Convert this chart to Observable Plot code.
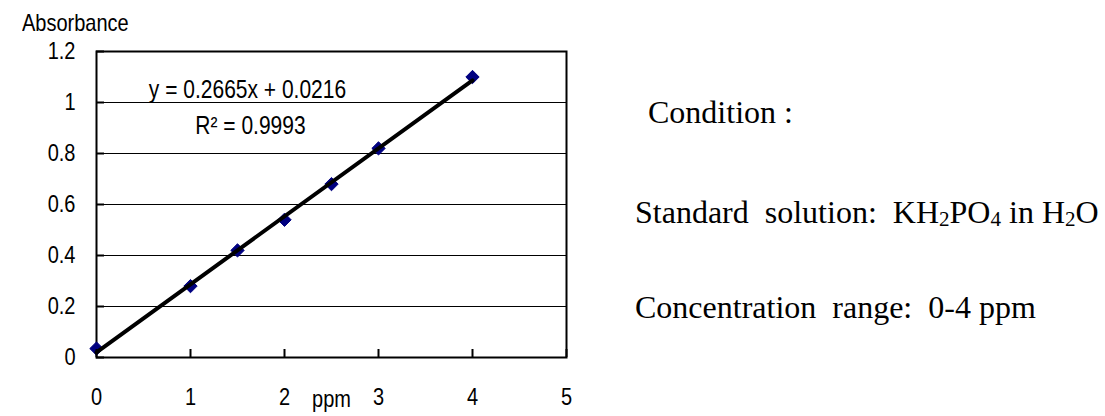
<!DOCTYPE html>
<html>
<head>
<meta charset="utf-8">
<script src="https://cdn.jsdelivr.net/npm/d3@7"></script>
<script src="https://cdn.jsdelivr.net/npm/@observablehq/plot@0.6"></script>
<style>
  html, body { margin: 0; padding: 0; background: #fff; }
  #wrap { position: relative; width: 1105px; height: 416px; overflow: hidden; background: #fff; }
  #chart { position: absolute; left: 0; top: 0; }
  .sans { position: absolute; font-family: "Liberation Sans", Arial, sans-serif; font-size: 20px; line-height: 1; color: #000; white-space: pre; transform: scaleY(1.2); transform-origin: left bottom; }
  .serif { position: absolute; font-family: "Liberation Serif", "Times New Roman", serif; font-size: 32px; line-height: 1; color: #000; white-space: pre; }
  .serif sub { font-size: 0.66em; vertical-align: -0.14em; line-height: 0; }
</style>
</head>
<body>
<div id="wrap">
  <div id="chart"></div>
  <div class="sans" id="ylab" style="left:22px; top:15px;"></div>
  <div class="serif" style="left:648px; top:96px;">Condition :</div>
  <div class="serif" style="left:635px; top:196px;">Standard  solution:  KH<sub>2</sub>PO<sub>4</sub> in H<sub>2</sub>O</div>
  <div class="serif" style="left:635px; top:291px;">Concentration  range:  0-4 ppm</div>
</div>
<script>
// ---- data ----
const ppm = [0, 1, 1.5, 2, 2.5, 3, 4];
const absorbance = [0.035, 0.28, 0.42, 0.54, 0.68, 0.82, 1.10];
const xTicks = [0, 1, 2, 3, 4, 5];
const yTicks = [0, 0.2, 0.4, 0.6, 0.8, 1.0, 1.2];
const xLabel = "ppm";
const yLabel = "Absorbance";
const equationText = "y = 0.2665x + 0.0216";
const r2Text = "R\u00B2 = 0.9993";

const data = ppm.map((x, i) => ({x, y: absorbance[i]}));
const FONT = '"Liberation Sans", Arial, sans-serif';
const fmt = d3.format("~g");

document.getElementById("ylab").textContent = yLabel;

const chart = Plot.plot({
  width: 600,
  height: 416,
  marginLeft: 96,
  marginRight: 34,
  marginTop: 51,
  marginBottom: 59,
  style: {fontFamily: FONT, fontSize: "20px", color: "black", background: "transparent", overflow: "visible"},
  x: {domain: [0, 5]},
  y: {domain: [0, 1.2]},
  marks: [
    Plot.ruleY(yTicks, {stroke: "black", strokeWidth: 1.2}),
    Plot.frame({stroke: "black", strokeWidth: 2}),
    Plot.dot(data, {x: "x", y: "y", symbol: "diamond2", r: 6, fill: "#000080", stroke: "#000080", strokeWidth: 1}),
    Plot.linearRegressionY(data, {x: "x", y: "y", stroke: "black", strokeWidth: 4, ci: 0}),
    Plot.axisX(xTicks, {tickSize: -8, tickPadding: 40, strokeWidth: 2, tickFormat: fmt,
      label: xLabel, labelAnchor: "center", labelArrow: "none", labelOffset: 48}),
    Plot.axisY(yTicks, {tickSize: -8, tickPadding: 29, strokeWidth: 2, tickFormat: fmt, label: null}),
    Plot.text([equationText], {frameAnchor: "top-left", dx: 151, dy: 45, textAnchor: "middle", lineAnchor: "bottom", fontSize: 21}),
    Plot.text([r2Text], {frameAnchor: "top-left", dx: 154, dy: 81, textAnchor: "middle", lineAnchor: "bottom", fontSize: 21})
  ]
});

document.getElementById("chart").appendChild(chart);

// stretch chart text vertically about its own centre (the reference's text is tall and narrow)
const SVGNS = "http://www.w3.org/2000/svg";
Array.from(chart.querySelectorAll("text")).forEach(function(t) {
  const g = document.createElementNS(SVGNS, "g");
  t.parentNode.insertBefore(g, t);
  g.appendChild(t);
  const bb = g.getBBox();
  const cy = bb.y + bb.height / 2;
  g.setAttribute("transform", `translate(0,${cy}) scale(1,1.2) translate(0,${-cy})`);
});
</script>
</body>
</html>
